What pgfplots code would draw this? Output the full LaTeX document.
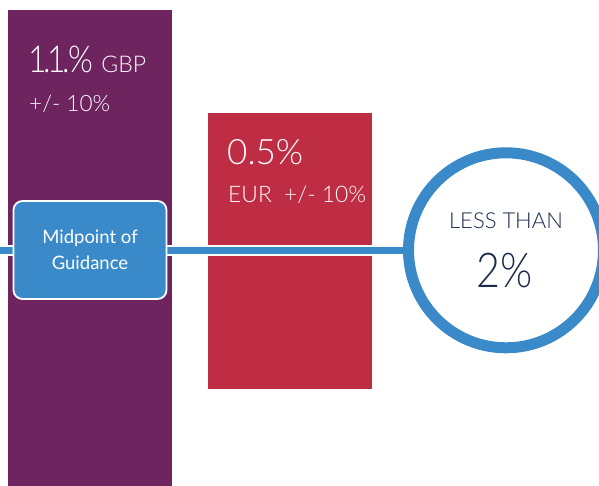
\documentclass[border=0pt]{standalone}
\usepackage{fontspec}
\setmainfont{Lato}
\newfontfamily\lightfont{Lato Light}
\newfontfamily\narrowlight[FakeStretch=0.86]{Lato Light}
\usepackage{pgfplots}
\pgfplotsset{compat=1.18}
\definecolor{bpurple}{RGB}{110,37,95}
\definecolor{bred}{RGB}{190,45,67}
\definecolor{bblue}{RGB}{58,138,201}
\definecolor{bnavy}{RGB}{28,43,74}
\begin{document}
\begin{tikzpicture}
\begin{axis}[name=ax, scale only axis, width=599pt, height=486pt,
  xmin=0, xmax=599, ymin=0, ymax=486, hide axis, clip=true]
% purple bar (GBP)
\addplot[fill=bpurple, draw=none] coordinates {(8,0) (172,0) (172,476) (8,476)} -- cycle;
% red bar (EUR)
\addplot[fill=bred, draw=none] coordinates {(208,97) (372,97) (372,373) (208,373)} -- cycle;
% guidance line
\addplot[white, line width=11pt] coordinates {(0,235.7) (506,235.7)};
\addplot[bblue, line width=7pt] coordinates {(-5,235.7) (506,235.7)};
% circle
\draw[draw=bblue, fill=white, line width=11pt] (axis cs:506,235.7) circle [radius=97.5pt];
% midpoint box
\node[draw=white, line width=1.8pt, fill=bblue, rounded corners=9pt,
  minimum width=153pt, minimum height=98pt, inner sep=0pt, text=white,
  align=center, font=\fontsize{18.5}{26}\selectfont] at (axis cs:90,236) {Midpoint of\\Guidance};
% texts
\node[anchor=base west, inner sep=0pt, text=white] at (axis cs:28,413)
  {\narrowlight\fontsize{37}{40}\selectfont 1\kern-3.5pt.\kern-3pt1\kern-3.5pt.\kern-2pt\%\ \lightfont\fontsize{23}{24}\selectfont GBP};
\node[anchor=base west, inner sep=0pt, text=white] at (axis cs:29,374)
  {\lightfont\fontsize{22.5}{24}\selectfont +/- 10\%};
\node[anchor=base west, inner sep=0pt, text=white] at (axis cs:227,321)
  {\lightfont\fontsize{35}{40}\selectfont 0.5\%};
\node[anchor=base west, inner sep=0pt, text=white] at (axis cs:228,283)
  {\lightfont\fontsize{22.8}{24}\selectfont EUR\ \ +/- 10\%};
\node[anchor=base, inner sep=0pt, text=bnavy] at (axis cs:506,257)
  {\lightfont\fontsize{22}{24}\selectfont LESS THAN};
\node[anchor=base, inner sep=0pt, text=bnavy] at (axis cs:505,198)
  {\narrowlight\fontsize{48}{52}\selectfont 2\%};
\end{axis}
\pgfresetboundingbox
\path (ax.south west) rectangle (ax.north east);
\end{tikzpicture}
\end{document}
